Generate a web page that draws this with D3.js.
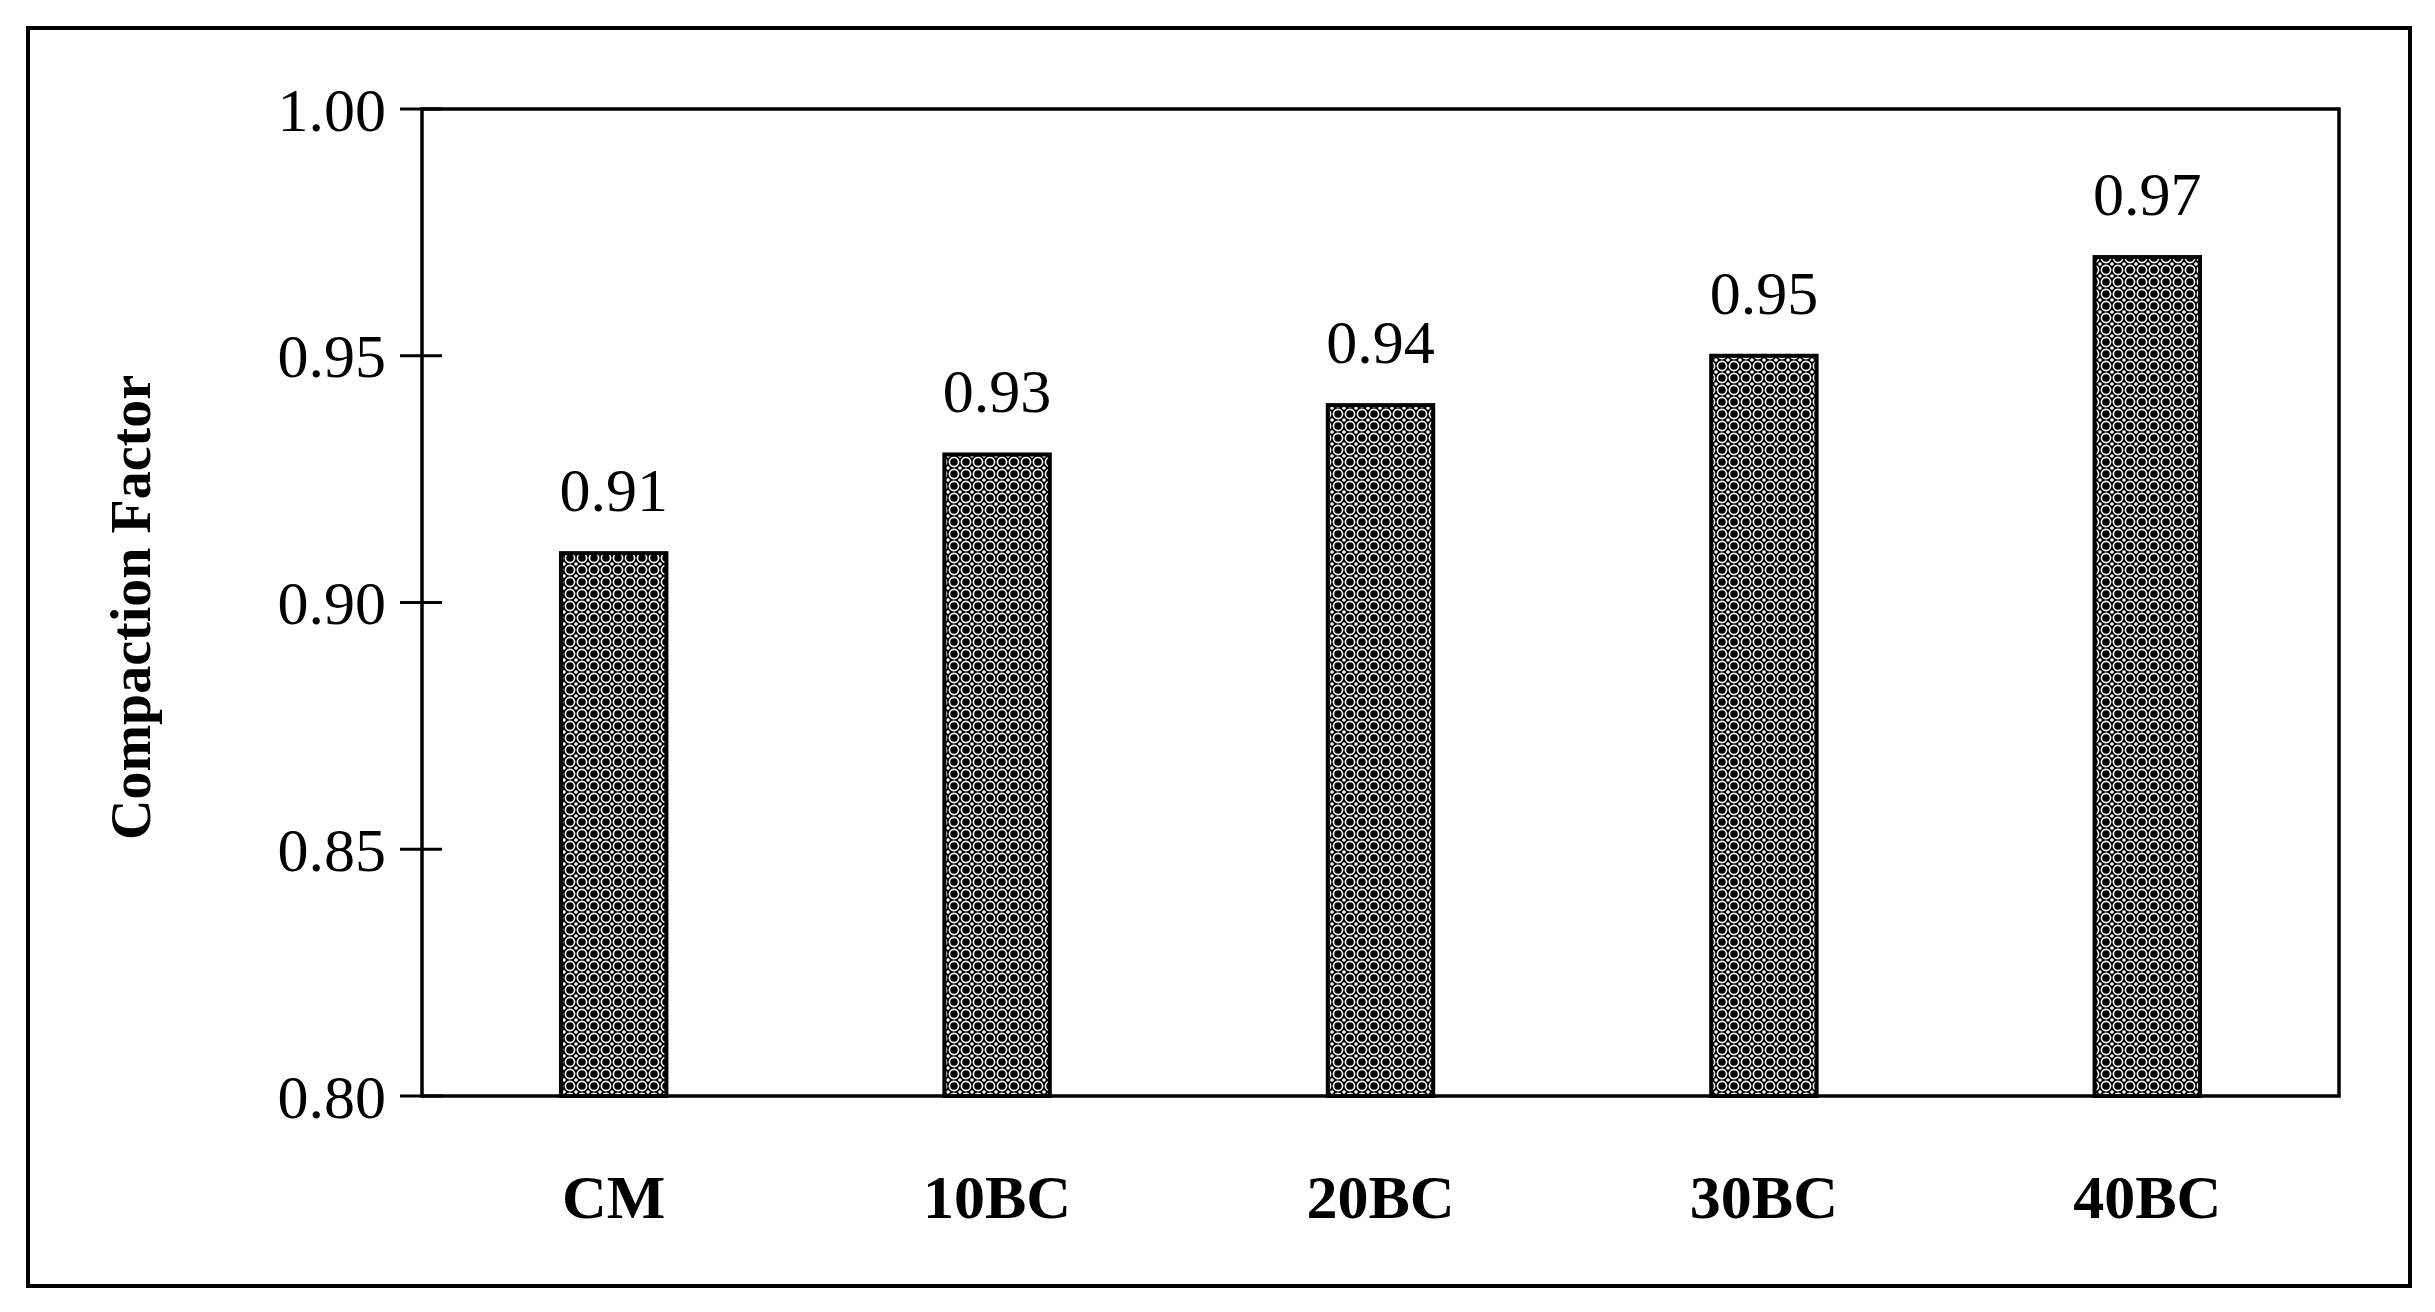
<!DOCTYPE html>
<html><head><meta charset="utf-8">
<script src="https://cdn.jsdelivr.net/npm/d3@7"></script>
<style>body{margin:0;background:#fff}svg{display:block}text{font-family:"Liberation Serif","DejaVu Serif",serif;fill:#000}</style>
</head><body>
<script>
const categories = ["CM", "10BC", "20BC", "30BC", "40BC"];
const values = [0.91, 0.93, 0.94, 0.95, 0.97];
const yTicks = [0.80, 0.85, 0.90, 0.95, 1.00];

const W = 2435, H = 1312;
const L = 422, R = 2339, T = 109, B = 1096;
const svg = d3.select("body").append("svg").attr("width", W).attr("height", H);

// crosshatch fill: black with white ring lattice
const defs = svg.append("defs");
const pat = defs.append("pattern").attr("id", "hatch").attr("patternUnits", "userSpaceOnUse")
  .attr("width", 12).attr("height", 12);
pat.append("rect").attr("width", 12).attr("height", 12).attr("fill", "#000");
pat.append("circle").attr("cx", 6).attr("cy", 6).attr("r", 4.6).attr("fill", "none").attr("stroke", "#fff").attr("stroke-width", 1.6);
[[0,0],[12,0],[0,12],[12,12]].forEach(([cx, cy]) =>
  pat.append("circle").attr("cx", cx).attr("cy", cy).attr("r", 1.8).attr("fill", "#fff"));

// outer frame
svg.append("rect").attr("x", 28).attr("y", 28).attr("width", 2382).attr("height", 1258)
  .attr("fill", "none").attr("stroke", "#000").attr("stroke-width", 4);

const x = d3.scaleBand().domain(categories).range([L, R]).paddingInner(0.725).paddingOuter(0.3625);
const y = d3.scaleLinear().domain([0.80, 1.00]).range([B, T]);

// plot box
svg.append("rect").attr("x", L).attr("y", T).attr("width", R - L).attr("height", B - T)
  .attr("fill", "none").attr("stroke", "#000").attr("stroke-width", 3.5);

// y ticks crossing the axis
const gy = svg.append("g");
gy.selectAll("line").data(yTicks).join("line")
  .attr("x1", L - 22).attr("x2", L + 20).attr("y1", d => y(d)).attr("y2", d => y(d))
  .attr("stroke", "#000").attr("stroke-width", 3);
gy.selectAll("text").data(yTicks).join("text")
  .attr("x", L - 36).attr("y", d => y(d)).attr("dy", "0.35em").attr("text-anchor", "end")
  .attr("font-size", 62).text(d => d.toFixed(2));

// bars
svg.selectAll("rect.bar").data(values).join("rect").attr("class", "bar")
  .attr("x", (d, i) => x(categories[i])).attr("width", x.bandwidth())
  .attr("y", d => y(d)).attr("height", d => B - y(d))
  .attr("fill", "url(#hatch)").attr("stroke", "#000").attr("stroke-width", 4);

// value labels
svg.selectAll("text.val").data(values).join("text").attr("class", "val")
  .attr("x", (d, i) => x(categories[i]) + x.bandwidth() / 2).attr("y", d => y(d) - 42)
  .attr("text-anchor", "middle").attr("font-size", 62).text(d => d.toFixed(2));

// category labels
svg.selectAll("text.cat").data(categories).join("text").attr("class", "cat")
  .attr("x", d => x(d) + x.bandwidth() / 2).attr("y", 1218)
  .attr("text-anchor", "middle").attr("font-size", 62).attr("font-weight", "bold").text(d => d);

// axis title
svg.append("text").attr("transform", `translate(150,${(T + B) / 2 + 5}) rotate(-90)`)
  .attr("text-anchor", "middle").attr("font-size", 56).attr("font-weight", "bold")
  .text("Compaction Factor");
</script>
</body></html>
